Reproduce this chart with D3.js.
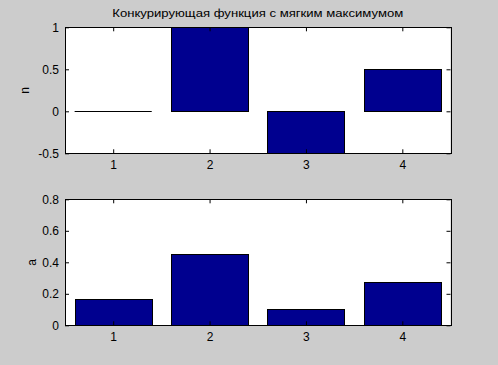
<!DOCTYPE html>
<html>
<head>
<meta charset="utf-8">
<script src="https://cdn.jsdelivr.net/npm/d3@7"></script>
<style>
  html, body { margin: 0; padding: 0; background: #cccccc; }
  svg { display: block; }
  text { font-family: "Liberation Sans", Arial, sans-serif; fill: #000; }
</style>
</head>
<body>
<svg id="chart" width="498" height="365"></svg>
<script>
// ---- data ----
const categories = [1, 2, 3, 4];
const nValues = [0, 1, -0.5, 0.5];
const aValues = [0.1664, 0.4523, 0.1009, 0.2744];
const nTicks = [-0.5, 0, 0.5, 1];
const aTicks = [0, 0.2, 0.4, 0.6, 0.8];
const titleText = "Конкурирующая функция с мягким максимумом";
const nLabel = "n";
const aLabel = "a";

const svg = d3.select("#chart");
svg.append("rect").attr("width", 498).attr("height", 365).attr("fill", "#cccccc");

const x = d3.scaleLinear().domain([0.5, 4.5]).range([65, 450.5]);
const barW = 0.8;
const barColor = "#00008f";

function panel(values, yDomain, yRange, ticks, label, labelX) {
  const y = d3.scaleLinear().domain(yDomain).range(yRange);
  const g = svg.append("g");
  const top = yRange[1], bottom = yRange[0];
  g.append("rect")
    .attr("x", x(0.5)).attr("y", top)
    .attr("width", x(4.5) - x(0.5)).attr("height", bottom - top)
    .attr("fill", "#fff");

  const clipId = "clip" + label;
  svg.append("clipPath").attr("id", clipId).append("rect")
    .attr("x", x(0.5)).attr("y", top - 0.5)
    .attr("width", x(4.5) - x(0.5)).attr("height", bottom - top + 1);

  const bars = g.append("g").attr("clip-path", `url(#${clipId})`);
  categories.forEach((c, i) => {
    const v = values[i];
    const y0 = y(0), y1 = y(v);
    if (v === 0) {
      bars.append("line")
        .attr("x1", x(c - barW / 2)).attr("x2", x(c + barW / 2))
        .attr("y1", Math.round(y0) + 0.5).attr("y2", Math.round(y0) + 0.5)
        .attr("stroke", "#000").attr("stroke-width", 1);
    } else {
      bars.append("rect")
        .attr("x", Math.round(x(c - barW / 2)) + 0.5)
        .attr("y", Math.round(Math.min(y0, y1)) + 0.5)
        .attr("width", Math.round(x(c + barW / 2) - x(c - barW / 2)))
        .attr("height", Math.round(Math.abs(y1 - y0)))
        .attr("fill", barColor).attr("stroke", "#000").attr("stroke-width", 1);
    }
  });

  const fmt = d => String(d);
  const gl = g.append("g").attr("transform", `translate(${x(0.5)},0)`)
    .call(d3.axisLeft(y).tickValues(ticks).tickSize(-4).tickPadding(6).tickFormat(fmt));
  const gr = g.append("g").attr("transform", `translate(${x(4.5)},0)`)
    .call(d3.axisRight(y).tickValues(ticks).tickSize(-4).tickFormat(""));
  const gb = g.append("g").attr("transform", `translate(0,${bottom})`)
    .call(d3.axisBottom(x).tickValues(categories).tickSize(-4).tickPadding(7).tickFormat(fmt));
  const gt = g.append("g").attr("transform", `translate(0,${top})`)
    .call(d3.axisTop(x).tickValues(categories).tickSize(-4).tickFormat(""));
  [gl, gr, gb, gt].forEach(a => {
    a.select(".domain").remove();
    a.selectAll("line").attr("stroke", "#000");
    a.selectAll("text").attr("font-size", 12).attr("font-family", "'Liberation Sans', Arial, sans-serif").attr("fill", "#000");
  });

  g.append("rect")
    .attr("x", Math.round(x(0.5)) + 0.5).attr("y", Math.round(top) + 0.5)
    .attr("width", Math.round(x(4.5) - x(0.5))).attr("height", Math.round(bottom - top))
    .attr("fill", "none").attr("stroke", "#000").attr("stroke-width", 1);

  g.append("text")
    .attr("transform", `translate(${labelX},${(top + bottom) / 2}) rotate(-90)`)
    .attr("text-anchor", "middle")
    .attr("font-size", 12)
    .text(label);
  return y;
}

panel(nValues, [-0.5, 1], [153.3, 27.3], nTicks, nLabel, 28.5);
panel(aValues, [0, 0.8], [325.3, 199.3], aTicks, aLabel, 35.5);

const t = svg.append("text")
  .attr("x", (x(0.5) + x(4.5)) / 2).attr("y", 17)
  .attr("text-anchor", "middle")
  .attr("font-size", 11)
  .text(titleText);
t.attr("textLength", 291).attr("lengthAdjust", "spacingAndGlyphs");
</script>
</body>
</html>
